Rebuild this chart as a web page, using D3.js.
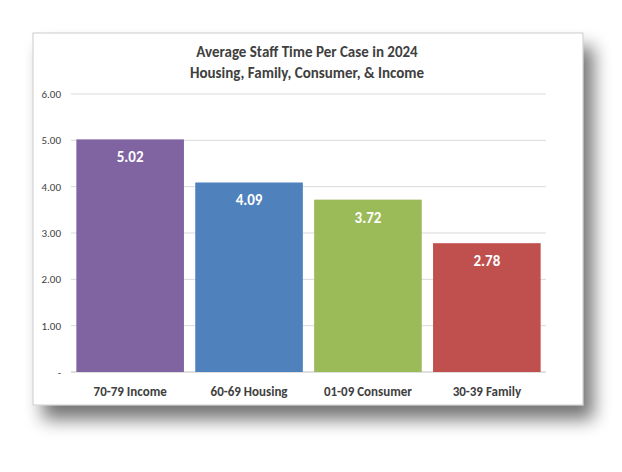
<!DOCTYPE html>
<html>
<head>
<meta charset="utf-8">
<script src="https://cdn.jsdelivr.net/npm/d3@7"></script>
<style>
  body { margin: 0; background: #fff; }
  svg { font-family: Calibri, Carlito, "Liberation Sans", "Open Sans", sans-serif; }
</style>
</head>
<body>
<svg id="chart"></svg>
<script>
const WIDTH = 622;
const HEIGHT = 472;

const categories = ["70-79 Income", "60-69 Housing", "01-09 Consumer", "30-39 Family"];
const values = [5.02, 4.09, 3.72, 2.78];
const colors = ["#8064A2", "#4F81BD", "#9BBB59", "#C0504D"];
const yTicks = [0, 1, 2, 3, 4, 5, 6];
const titleLines = ["Average Staff Time Per Case in 2024", "Housing, Family, Consumer, & Income"];

const svg = d3.select("#chart").attr("width", WIDTH).attr("height", HEIGHT);

// drop shadow for the card
const defs = svg.append("defs");
const f = defs.append("filter").attr("id", "shadow")
  .attr("x", "-10%").attr("y", "-10%").attr("width", "125%").attr("height", "130%");
f.append("feGaussianBlur").attr("in", "SourceAlpha").attr("stdDeviation", 9);
f.append("feOffset").attr("dx", 10).attr("dy", 14).attr("result", "b");
f.append("feComponentTransfer").append("feFuncA").attr("type", "linear").attr("slope", 0.55);
const m = f.append("feMerge");
m.append("feMergeNode");
m.append("feMergeNode").attr("in", "SourceGraphic");

svg.append("rect")
  .attr("x", 33).attr("y", 33).attr("width", 550).attr("height", 372)
  .attr("fill", "#fff").attr("stroke", "#bfbfbf").attr("stroke-width", 0.8)
  .attr("filter", "url(#shadow)");

titleLines.forEach((t, i) => {
  svg.append("text")
    .attr("x", 307).attr("y", 57 + i * 21)
    .attr("text-anchor", "middle")
    .attr("font-size", 15).attr("font-weight", "bold").attr("fill", "#404040")
    .text(t);
});

const x = d3.scaleBand().domain(categories).range([71, 546]).paddingInner(0.095).paddingOuter(0.045);
const y = d3.scaleLinear().domain([0, 6]).range([372, 94]);

const g = svg.append("g");

g.selectAll(".grid").data(yTicks).enter().append("line")
  .attr("x1", 71).attr("x2", 546)
  .attr("y1", d => y(d)).attr("y2", d => y(d))
  .attr("stroke", d => d === 0 ? "#bfbfbf" : "#d9d9d9").attr("stroke-width", 1);

g.selectAll(".ytick").data(yTicks).enter().append("text")
  .attr("x", 61).attr("y", d => y(d) + 4)
  .attr("text-anchor", "end").attr("font-size", 11).attr("fill", "#404040")
  .text(d => d === 0 ? "-" : d.toFixed(2));

g.selectAll(".bar").data(values).enter().append("rect")
  .attr("x", (d, i) => x(categories[i]))
  .attr("width", x.bandwidth())
  .attr("y", d => y(d))
  .attr("height", d => y(0) - y(d))
  .attr("fill", (d, i) => colors[i]);

g.selectAll(".val").data(values).enter().append("text")
  .attr("x", (d, i) => x(categories[i]) + x.bandwidth() / 2)
  .attr("y", d => y(d) + 23)
  .attr("text-anchor", "middle").attr("font-size", 15).attr("font-weight", "bold").attr("fill", "#fff")
  .text(d => d.toFixed(2));

g.selectAll(".cat").data(categories).enter().append("text")
  .attr("x", d => x(d) + x.bandwidth() / 2)
  .attr("y", 396)
  .attr("text-anchor", "middle").attr("font-size", 13).attr("font-weight", "bold").attr("fill", "#404040")
  .text(d => d);
</script>
</body>
</html>
